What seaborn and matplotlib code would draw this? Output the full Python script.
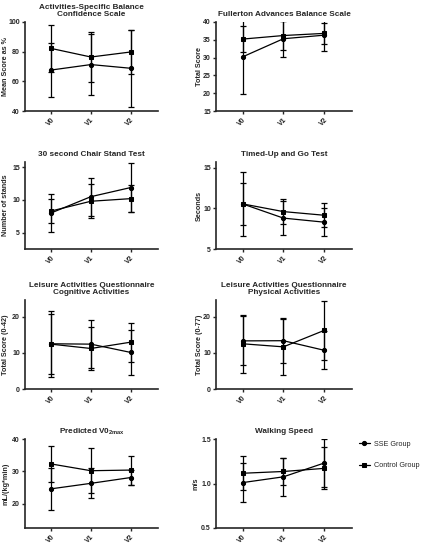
import numpy as np
import pandas as pd
import matplotlib
matplotlib.use("Agg")
import matplotlib.pyplot as plt
import seaborn as sns

visits = ["V0", "V1", "V2"]
groups = ["SSE Group", "Control Group"]

# panel titles / y labels
titles = ["Activities-Specific Balance\nConfidence Scale", "Fullerton Advances Balance Scale",
          "30 second Chair Stand Test", "Timed-Up and Go Test",
          "Leisure Activities Questionnaire\nCognitive Activities",
          "Leisure Activities Questionnaire\nPhysical Activities",
          r"Predicted V0$_\mathbf{2max}$", "Walking Speed"]
ylabels = ["Mean Score as %", "Total Score", "Number of stands", "Seconds",
           "Total Score (0-42)", "Total Score (0-77)", "mL/(kg*min)", "m/s"]

# means and SDs (SSE, Control)
abc_sse = [67.6, 71.3, 68.8];      abc_sse_sd = [18.2, 20.5, 25.8]
abc_ctl = [82.2, 76.4, 79.8];      abc_ctl_sd = [15.6, 17.0, 15.0]
fab_sse = [30.2, 35.3, 36.3];      fab_sse_sd = [10.3, 5.0, 4.4]
fab_ctl = [35.2, 36.2, 36.8];      fab_ctl_sd = [3.7, 4.0, 2.9]
chair_sse = [8.0, 10.5, 11.9];     chair_sse_sd = [2.9, 2.9, 3.8]
chair_ctl = [8.3, 9.8, 10.2];      chair_ctl_sd = [1.9, 2.6, 2.1]
tug_sse = [10.55, 8.8, 8.3];       tug_sse_sd = [3.95, 2.05, 1.7]
tug_ctl = [10.55, 9.6, 9.15];      tug_ctl_sd = [2.55, 1.5, 1.45]
laqc_sse = [12.5, 12.4, 10.1];     laqc_sse_sd = [9.1, 6.6, 6.15]
laqc_ctl = [12.4, 11.2, 12.95];    laqc_ctl_sd = [8.3, 6.0, 5.35]
laqp_sse = [13.3, 13.35, 10.7];    laqp_sse_sd = [6.8, 6.2, 5.2]
laqp_ctl = [12.5, 11.65, 16.2];    laqp_ctl_sd = [8.0, 7.7, 8.1]
vo2_sse = [24.6, 26.3, 28.1];      vo2_sse_sd = [6.5, 4.6, 2.4]
vo2_ctl = [32.3, 30.2, 30.4];      vo2_ctl_sd = [5.55, 7.0, 4.5]
ws_sse = [1.01, 1.075, 1.23];      ws_sse_sd = [0.22, 0.21, 0.265]
ws_ctl = [1.115, 1.135, 1.17];     ws_ctl_sd = [0.19, 0.15, 0.235]

panels = [
    (abc_sse, abc_sse_sd, abc_ctl, abc_ctl_sd, (40, 100), ["40", "60", "80", "100"]),
    (fab_sse, fab_sse_sd, fab_ctl, fab_ctl_sd, (15, 40), ["15", "20", "25", "30", "35", "40"]),
    (chair_sse, chair_sse_sd, chair_ctl, chair_ctl_sd, (2.5, 15.8), ["5", "10", "15"]),
    (tug_sse, tug_sse_sd, tug_ctl, tug_ctl_sd, (5, 15.7), ["5", "10", "15"]),
    (laqc_sse, laqc_sse_sd, laqc_ctl, laqc_ctl_sd, (0, 24.6), ["0", "10", "20"]),
    (laqp_sse, laqp_sse_sd, laqp_ctl, laqp_ctl_sd, (0, 24.6), ["0", "10", "20"]),
    (vo2_sse, vo2_sse_sd, vo2_ctl, vo2_ctl_sd, (12.5, 40), ["20", "30", "40"]),
    (ws_sse, ws_sse_sd, ws_ctl, ws_ctl_sd, (0.5, 1.5), ["0.5", "1.0", "1.5"]),
]

sns.set_style("ticks")
plt.rcParams['font.family'] = ['Liberation Sans', 'DejaVu Sans']
plt.rcParams['mathtext.fontset'] = 'custom'
plt.rcParams['mathtext.bf'] = 'Liberation Sans:bold'
plt.rcParams['mathtext.rm'] = 'Liberation Sans'

W, H = 426, 552
fig = plt.figure(figsize=(W / 100, H / 100), dpi=100)

cols = [(25, 158), (216, 352)]
rows = [(22, 111), (162, 249), (300, 389), (439, 528)]
label_x = [9, 203]   # right edge of rotated y label, px

markers = {"SSE Group": "o", "Control Group": "s"}

for i, (s, ssd, c, csd, ylim, ylabs) in enumerate(panels):
    r, k = divmod(i, 2)
    x0, x1 = cols[k]
    y0, y1 = rows[r]
    ax = fig.add_axes([x0 / W, 1 - y1 / H, (x1 - x0) / W, (y1 - y0) / H])

    df = pd.DataFrame({
        "visit": visits * 2,
        "mean": s + c,
        "sd": ssd + csd,
        "group": [groups[0]] * 3 + [groups[1]] * 3,
    })
    sns.lineplot(data=df, x="visit", y="mean", style="group", markers=markers,
                 dashes=False, color="black", linewidth=0.9, markersize=3.0,
                 markeredgecolor="black", ax=ax, legend=(i == 7), zorder=3)
    for g in groups:
        sub = df[df.group == g]
        ax.errorbar(np.arange(3), sub["mean"], yerr=sub["sd"], fmt="none",
                    ecolor="black", elinewidth=0.9, capsize=2.2, capthick=0.9,
                    zorder=2)

    ax.set_xlim(-0.65, 2.68)
    ax.set_ylim(*ylim)
    ax.set_yticks([float(t) for t in ylabs])
    ax.set_yticklabels(ylabs)
    ax.set_xticks(range(3))
    ax.set_xticklabels(visits, rotation=45, ha="right", rotation_mode="anchor")
    ax.set_xlabel("")
    ax.set_ylabel(ylabels[i], fontsize=5.2, fontweight="bold")
    lx = label_x[k] - (4 if i == 7 else 0)
    ax.yaxis.set_label_coords((lx - x0) / (x1 - x0), 0.5)
    ax.set_title(titles[i], fontsize=5.9, fontweight="bold", pad=4, linespacing=1.1)
    for t in ax.get_xticklabels() + ax.get_yticklabels():
        t.set_fontsize(5.0)
        t.set_fontweight("bold")
    ax.tick_params(axis="both", length=2.5, width=1.0, pad=1.2)
    sns.despine(ax=ax)
    for sp in ("left", "bottom"):
        ax.spines[sp].set_linewidth(1.2)

    if i == 7:
        handles, labels = ax.get_legend_handles_labels()
        ax.get_legend().remove()
        fig.legend(handles, labels, loc="upper left",
                   bbox_to_anchor=(352 / W, 1 - 434 / H), frameon=False,
                   fontsize=5.2, labelspacing=2.0, handlelength=1.6,
                   handletextpad=0.6)

fig.savefig("out.png", dpi=100)
